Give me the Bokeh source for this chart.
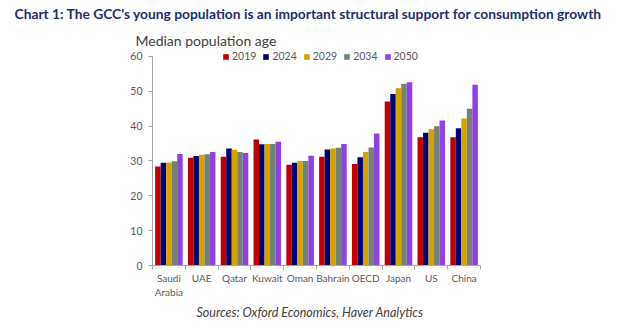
from bokeh.plotting import figure
from bokeh.models import (ColumnDataSource, FixedTicker, Legend, LegendItem, Title, Range1d)
from bokeh.embed import file_html
from bokeh.resources import INLINE

categories = ["Saudi\nArabia", "UAE", "Qatar", "Kuwait", "Oman", "Bahrain", "OECD", "Japan", "US", "China"]
years = ["2019", "2024", "2029", "2034", "2050"]
v2019 = [28.4, 30.9, 31.2, 36.2, 28.9, 31.2, 29.1, 47.1, 36.8, 36.8]
v2024 = [29.5, 31.4, 33.6, 34.8, 29.5, 33.3, 31.1, 49.2, 38.1, 39.4]
v2029 = [29.6, 31.8, 33.2, 34.9, 30.0, 33.6, 32.6, 50.9, 39.1, 42.2]
v2034 = [29.9, 31.9, 32.6, 34.9, 30.0, 33.8, 33.9, 52.2, 40.0, 45.0]
v2050 = [32.0, 32.6, 32.3, 35.5, 31.5, 34.9, 37.9, 52.6, 41.6, 51.9]
series = [v2019, v2024, v2029, v2034, v2050]
colors = ["#c00000", "#000070", "#d4a300", "#768176", "#9042e0"]

FONT = "Lato"

p = figure(width=618, height=334, output_backend="svg", toolbar_location=None, title=None,
           x_range=Range1d(0, 10), y_range=Range1d(0, 62.0),
           min_border_left=152, min_border_right=138, min_border_top=49, min_border_bottom=69)
p.outline_line_color = None
p.grid.grid_line_color = None
p.background_fill_color = "white"
p.border_fill_color = "white"

centers = [i + 0.5 for i in range(len(categories))]
bw = 0.168
renderers = []
for k, (vals, col) in enumerate(zip(series, colors)):
    xs = [c + (k - 2) * bw for c in centers]
    src = ColumnDataSource(dict(x=xs, top=vals))
    r = p.vbar(x="x", top="top", width=bw, source=src, fill_color=col, line_color=None)
    renderers.append(r)

# x axis
p.xaxis.ticker = FixedTicker(ticks=centers, minor_ticks=list(range(len(categories) + 1)))
p.xaxis.major_label_overrides = {c: lab for c, lab in zip(centers, categories)}
p.xaxis.major_tick_line_color = None
p.xaxis.major_tick_out = 0
p.xaxis.major_tick_in = 0
p.xaxis.minor_tick_line_color = "#a6a6a6"
p.xaxis.minor_tick_out = 4
p.xaxis.minor_tick_in = 0
p.xaxis.axis_line_color = "#a6a6a6"
p.xaxis.major_label_text_font = FONT
p.xaxis.major_label_text_font_size = "10px"
p.xaxis.major_label_text_color = "#595959"
p.xaxis.major_label_standoff = 2

# y axis
p.yaxis.ticker = FixedTicker(ticks=[0, 10, 20, 30, 40, 50, 60])
p.yaxis.bounds = (0, 60)
p.yaxis.minor_tick_line_color = None
p.yaxis.major_tick_out = 4
p.yaxis.major_tick_in = 0
p.yaxis.major_tick_line_color = "#a6a6a6"
p.yaxis.axis_line_color = "#a6a6a6"
p.yaxis.major_label_text_font = FONT
p.yaxis.major_label_text_font_size = "10.5px"
p.yaxis.major_label_text_color = "#595959"
p.yaxis.major_label_standoff = 6

legend = Legend(items=[LegendItem(label=y, renderers=[r]) for y, r in zip(years, renderers)],
                orientation="horizontal", location=(70, 203), background_fill_alpha=0,
                border_line_color=None, glyph_width=7, glyph_height=7, label_width=20,
                label_text_font=FONT, label_text_font_size="10.5px", label_text_color="#595959",
                spacing=6, padding=0, margin=0, label_standoff=3)
p.add_layout(legend, "center")

sub = Title(text="Median population age", text_font=FONT, text_font_size="14px",
            text_font_style="normal", text_color="#404040", align="left", offset=-17, standoff=2)
title = Title(text="Chart 1: The GCC's young population is an important structural support for consumption growth",
              text_font=FONT, text_font_style="bold", text_font_size="13.8px", text_color="#1c2f6e",
              align="left", offset=-138, standoff=9, vertical_align="top")
p.add_layout(sub, "above")
p.add_layout(title, "above")

src_lbl = Title(text="Sources: Oxford Economics, Haver Analytics", text_font=FONT,
                text_font_style="italic", text_font_size="12.5px", text_color="#404040",
                align="left", offset=44, standoff=4)
p.add_layout(src_lbl, "below")

open("out.html", "w").write(file_html(p, INLINE))
